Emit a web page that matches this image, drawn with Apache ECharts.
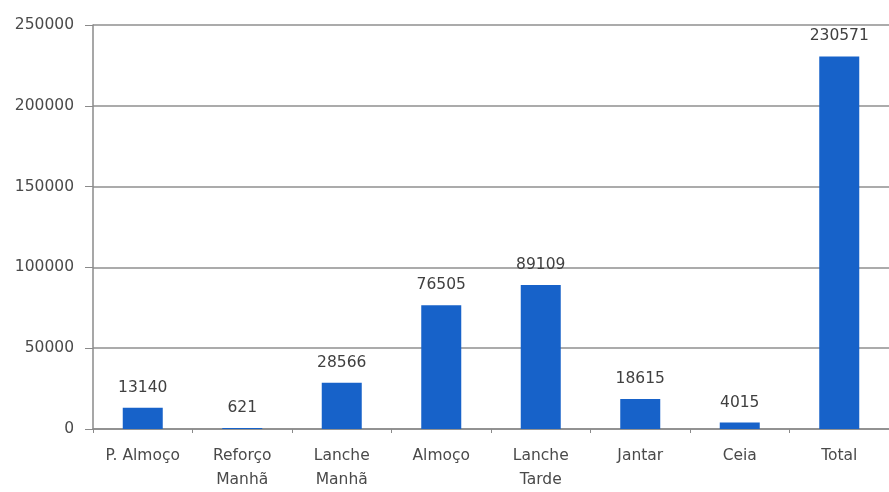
<!DOCTYPE html>
<html><head><meta charset="utf-8">
<script src="https://cdn.jsdelivr.net/npm/echarts@6/dist/echarts.min.js"></script>
<style>html,body{margin:0;padding:0;background:#fff}#c{width:889px;height:492px}</style>
</head><body><div id="c"></div>
<script>
var categories = ['P. Almoço', 'Reforço\nManhã', 'Lanche\nManhã', 'Almoço', 'Lanche\nTarde', 'Jantar', 'Ceia', 'Total'];
var values = [13140, 621, 28566, 76505, 89109, 18615, 4015, 230571];
var yMin = 0, yMax = 250000, yStep = 50000;

var chart = echarts.init(document.getElementById('c'), null, {renderer: 'canvas'});
var font = 'DejaVu Sans';
chart.setOption({
  animation: false,
  backgroundColor: '#fff',
  grid: {left: 93, top: 25, width: 800, height: 405, containLabel: false},
  xAxis: {
    type: 'category', data: categories,
    axisLine: {lineStyle: {color: '#8a8a8a', width: 1.5}},
    axisTick: {show: true, length: 4, alignWithLabel: false, lineStyle: {color: '#8a8a8a'}},
    axisLabel: {color: '#4a4a4a', fontFamily: font, fontSize: 15.5, margin: 15, lineHeight: 24, interval: 0}
  },
  yAxis: {
    type: 'value', min: yMin, max: yMax, interval: yStep,
    axisLine: {show: true, lineStyle: {color: '#8a8a8a', width: 1.5}},
    axisTick: {show: true, length: 8, lineStyle: {color: '#8a8a8a'}},
    splitLine: {lineStyle: {color: '#8f8f8f', width: 1.5}},
    axisLabel: {color: '#4a4a4a', fontFamily: font, fontSize: 15.5, margin: 19, formatter: function (v) { return String(v); }}
  },
  series: [{
    type: 'bar', data: values, barWidth: 40,
    itemStyle: {color: '#1762c9'},
    label: {show: true, position: 'top', distance: 12, color: '#404040', fontFamily: font, fontSize: 15.5}
  }]
});
</script></body></html>
